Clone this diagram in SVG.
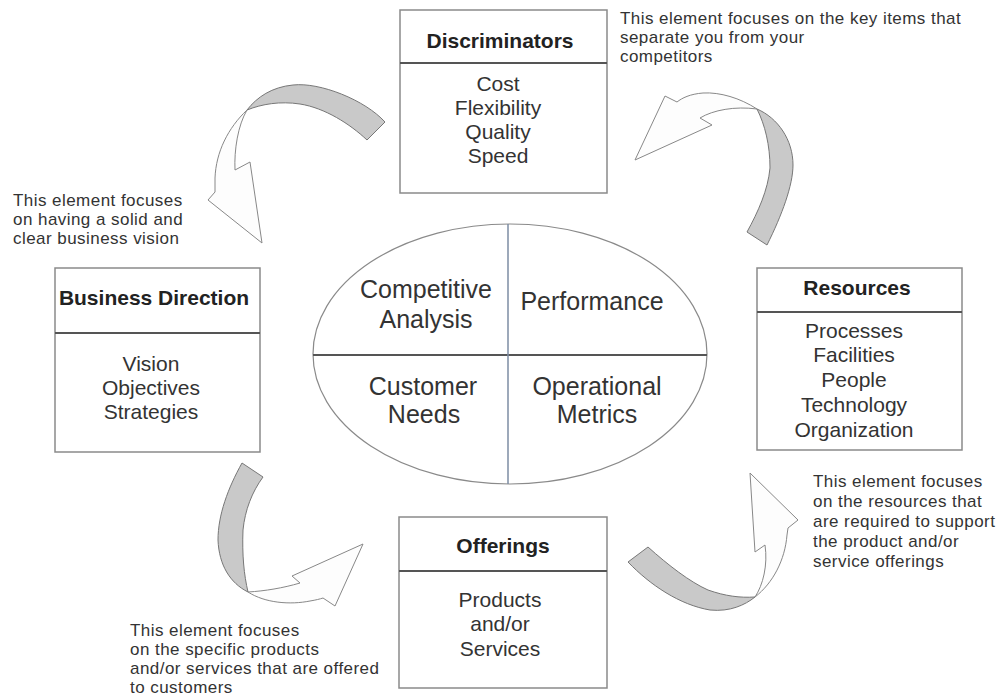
<svg xmlns="http://www.w3.org/2000/svg" width="999" height="700" viewBox="0 0 999 700">
<style>
.box{fill:#fff;stroke:#8a8a8a;stroke-width:1.5}
.div{stroke:#555;stroke-width:2}
.title{font-family:"Liberation Sans",Arial,sans-serif;font-weight:bold;font-size:21px;fill:#222;text-anchor:middle}
.item{font-family:"Liberation Sans",Arial,sans-serif;font-size:21px;fill:#333;text-anchor:middle}
.ell{font-family:"Liberation Sans",Arial,sans-serif;font-size:25px;fill:#333;text-anchor:middle}
.note{font-family:"Liberation Sans",Arial,sans-serif;font-size:17px;letter-spacing:0.45px;fill:#333}
.back{fill:#c9c9c9;stroke:#777;stroke-width:1}
.front{fill:#fdfdfd;stroke:#888;stroke-width:1}
</style>
<rect width="999" height="700" fill="#fff"/>

<g id="connectors">
  <g id="arrow-top-left">
    <path class="back" d="M385,122 C365,100 320,82 293,85 C272,87 257,97 247,110 C262,104 280,101 300,104 C325,108 350,124 367,140 Z"/>
    <path class="front" d="M247,110 C228,128 216,152 215,178 L215,192 L208,200 L262,243 L250,162 L235,170 C234,150 238,125 247,110 Z"/>
  </g>
  <g id="arrow-top-right">
    <path class="back" d="M767,245 C782,215 793,185 793,165 C793,140 778,118 757,109 C765,125 770,145 770,168 C768,190 758,212 747,232 Z"/>
    <path class="front" d="M757,109 C740,98 720,92 703,93 C690,94 682,98 677,102 L665,96 L635,160 L712,125 L700,118 C713,110 735,106 757,109 Z"/>
  </g>
  <g id="arrow-bottom-left">
    <path class="back" d="M242,463 C228,488 218,515 218,540 C219,565 230,583 248,592 C244,575 242,555 243,530 C245,510 252,492 263,477 Z"/>
    <path class="front" d="M248,592 C265,603 290,605 310,601 C316,600 320,599 323,598 L335,606 L363,544 L292,576 L300,583 C283,588 265,591 248,592 Z"/>
  </g>
  <g id="arrow-bottom-right">
    <path class="back" d="M628,562 C650,585 680,605 710,610 C730,612 745,605 755,597 C740,598 725,596 708,590 C690,582 668,565 648,547 Z"/>
    <path class="front" d="M755,597 C773,583 785,560 787,535 L788,528 L798,520 L750,473 L755,552 L765,545 C768,565 763,585 755,597 Z"/>
  </g>
</g>

<g id="center">
  <ellipse cx="510" cy="354" rx="197" ry="130" fill="#fff" stroke="#8a8a8a" stroke-width="1.2"/>
  <line x1="313" y1="355" x2="707" y2="355" stroke="#555" stroke-width="1.8"/>
  <line x1="508" y1="224" x2="508" y2="484" stroke="#7d8ca3" stroke-width="1.5"/>
  <text class="ell" x="426" y="298">Competitive</text>
  <text class="ell" x="426" y="328">Analysis</text>
  <text class="ell" x="592" y="310">Performance</text>
  <text class="ell" x="423" y="395">Customer</text>
  <text class="ell" x="424" y="423">Needs</text>
  <text class="ell" x="597" y="395">Operational</text>
  <text class="ell" x="597" y="423">Metrics</text>
</g>

<g id="discriminators">
  <rect class="box" x="400" y="10" width="207" height="183"/>
  <line class="div" x1="400" y1="63" x2="607" y2="63"/>
  <text class="title" x="500" y="48">Discriminators</text>
  <text class="item" x="498" y="91">Cost</text>
  <text class="item" x="498" y="115">Flexibility</text>
  <text class="item" x="498" y="139">Quality</text>
  <text class="item" x="498" y="163">Speed</text>
</g>

<g id="business-direction">
  <rect class="box" x="55" y="268" width="205" height="184"/>
  <line class="div" x1="55" y1="333" x2="260" y2="333"/>
  <text class="title" x="154" y="305">Business Direction</text>
  <text class="item" x="151" y="371">Vision</text>
  <text class="item" x="151" y="395">Objectives</text>
  <text class="item" x="151" y="419">Strategies</text>
</g>

<g id="resources">
  <rect class="box" x="757" y="268" width="205" height="182"/>
  <line class="div" x1="757" y1="312" x2="962" y2="312"/>
  <text class="title" x="857" y="295">Resources</text>
  <text class="item" x="854" y="338">Processes</text>
  <text class="item" x="854" y="362">Facilities</text>
  <text class="item" x="854" y="387">People</text>
  <text class="item" x="854" y="412">Technology</text>
  <text class="item" x="854" y="437">Organization</text>
</g>

<g id="offerings">
  <rect class="box" x="399" y="517" width="208" height="171"/>
  <line class="div" x1="399" y1="571" x2="607" y2="571"/>
  <text class="title" x="503" y="553">Offerings</text>
  <text class="item" x="500" y="607">Products</text>
  <text class="item" x="500" y="631">and/or</text>
  <text class="item" x="500" y="656">Services</text>
</g>

<g id="note-discriminators">
  <text class="note" x="620" y="24">This element focuses on the key items that</text>
  <text class="note" x="620" y="43">separate you from your</text>
  <text class="note" x="620" y="62">competitors</text>
</g>
<g id="note-business-direction">
  <text class="note" x="13" y="206">This element focuses</text>
  <text class="note" x="13" y="225">on having a solid and</text>
  <text class="note" x="13" y="244">clear business vision</text>
</g>
<g id="note-resources">
  <text class="note" x="813" y="487">This element focuses</text>
  <text class="note" x="813" y="507">on the resources that</text>
  <text class="note" x="813" y="527">are required to support</text>
  <text class="note" x="813" y="547">the product and/or</text>
  <text class="note" x="813" y="567">service offerings</text>
</g>
<g id="note-offerings">
  <text class="note" x="130" y="636">This element focuses</text>
  <text class="note" x="130" y="655">on the specific products</text>
  <text class="note" x="130" y="674">and/or services that are offered</text>
  <text class="note" x="130" y="693">to customers</text>
</g>
</svg>
